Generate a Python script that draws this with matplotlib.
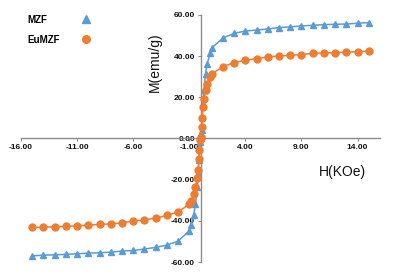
import matplotlib
matplotlib.use("Agg")
import matplotlib.pyplot as plt
from matplotlib.ticker import FormatStrFormatter

plt.rcParams['font.family'] = ['Liberation Sans', 'DejaVu Sans']

# field values (kOe), positive branch then negative branch
h_pos = [0.05, 0.1, 0.15, 0.2, 0.3, 0.45, 0.6, 0.85, 1.0, 2, 3, 4, 5, 6, 7, 8, 9, 10, 11, 12, 13, 14, 15]
h_neg = [-0.05, -0.1, -0.15, -0.2, -0.3, -0.45, -0.6, -0.85, -1.0, -2, -3, -4, -5, -6, -7, -8, -9, -10, -11, -12, -13, -14, -15]

mzf_pos = [1.5, 4.0, 10.5, 17.0, 23.4, 31.5, 36.4, 41.3, 44.0, 48.8, 51.1, 52.2, 52.7, 53.2, 53.9, 54.2, 54.7, 55.0, 55.3, 55.5, 55.6, 56.0, 56.3]
mzf_neg = [-1.5, -4.0, -10.5, -17.0, -23.8, -32.0, -37.0, -42.0, -44.8, -49.9, -51.8, -52.9, -53.7, -54.4, -54.7, -55.2, -55.5, -55.7, -56.0, -56.3, -56.5, -56.7, -57.0]

eumzf_pos = [0.5, 5.6, 9.9, 15.3, 19.4, 23.4, 26.7, 29.9, 31.5, 34.8, 36.9, 38.0, 38.8, 39.6, 40.1, 40.4, 40.8, 41.3, 41.6, 41.7, 41.9, 42.2, 42.5]
eumzf_neg = [-0.5, -5.6, -9.9, -15.3, -19.4, -23.6, -27.0, -30.3, -32.0, -35.6, -37.4, -38.7, -39.5, -40.1, -41.0, -41.5, -41.7, -42.1, -42.4, -42.7, -42.9, -43.1, -43.2]

x_ticks = [-16, -11, -6, -1, 4, 9, 14]
y_ticks = [-60, -40, -20, 0, 20, 40, 60]

blue = '#5B9BD5'
orange = '#ED7D31'

# join the two branches into one curve each
h_all = h_neg[::-1] + [0.0] + h_pos
mzf_all = mzf_neg[::-1] + [0.0] + mzf_pos
eu_all = eumzf_neg[::-1] + [0.0] + eumzf_pos

fig = plt.figure(figsize=(4.0, 2.76), dpi=100)
ax = fig.add_axes([0.0525, 0.0507, 0.8975, 0.895])

ax.plot(h_all, mzf_all, color=blue, lw=1.1, marker='^', ms=5, label='MZF', zorder=3)
ax.plot(h_all, eu_all, color=orange, lw=1.1, marker='o', ms=5, label='EuMZF', zorder=3)

ax.set_xlim(-16, 16)
ax.set_ylim(-60, 60)
ax.spines['left'].set_position(('data', 0))
ax.spines['bottom'].set_position(('data', 0))
ax.spines['right'].set_visible(False)
ax.spines['top'].set_visible(False)
for s in ('left', 'bottom'):
    ax.spines[s].set_color('#8c8c8c')
    ax.spines[s].set_linewidth(1.0)

ax.set_xticks(x_ticks)
ax.set_yticks(y_ticks)
ax.xaxis.set_major_formatter(FormatStrFormatter('%.2f'))
ax.yaxis.set_major_formatter(FormatStrFormatter('%.2f'))
ax.tick_params(axis='both', labelsize=6, colors='#8c8c8c', labelcolor='#111111',
               length=2, width=0.8, pad=2)
for lab in ax.get_xticklabels() + ax.get_yticklabels():
    lab.set_fontweight('bold')

fig.text(0.3875, 0.775, 'M(emu/g)', rotation=90, fontsize=10, ha='center', va='center', color='#111111')
fig.text(0.855, 0.377, 'H(KOe)', fontsize=10, ha='center', va='center', color='#111111')

# legend drawn by hand to keep the reference layout
fig.text(0.068, 0.928, 'MZF', fontsize=7, fontweight='bold', ha='left', va='center')
fig.text(0.068, 0.855, 'EuMZF', fontsize=7, fontweight='bold', ha='left', va='center')
fig.lines.append(plt.Line2D([0.215], [0.931], transform=fig.transFigure, marker='^', ms=5.5, color=blue, ls=''))
fig.lines.append(plt.Line2D([0.215], [0.858], transform=fig.transFigure, marker='o', ms=5.5, color=orange, ls=''))

fig.savefig('out.png', dpi=100)
